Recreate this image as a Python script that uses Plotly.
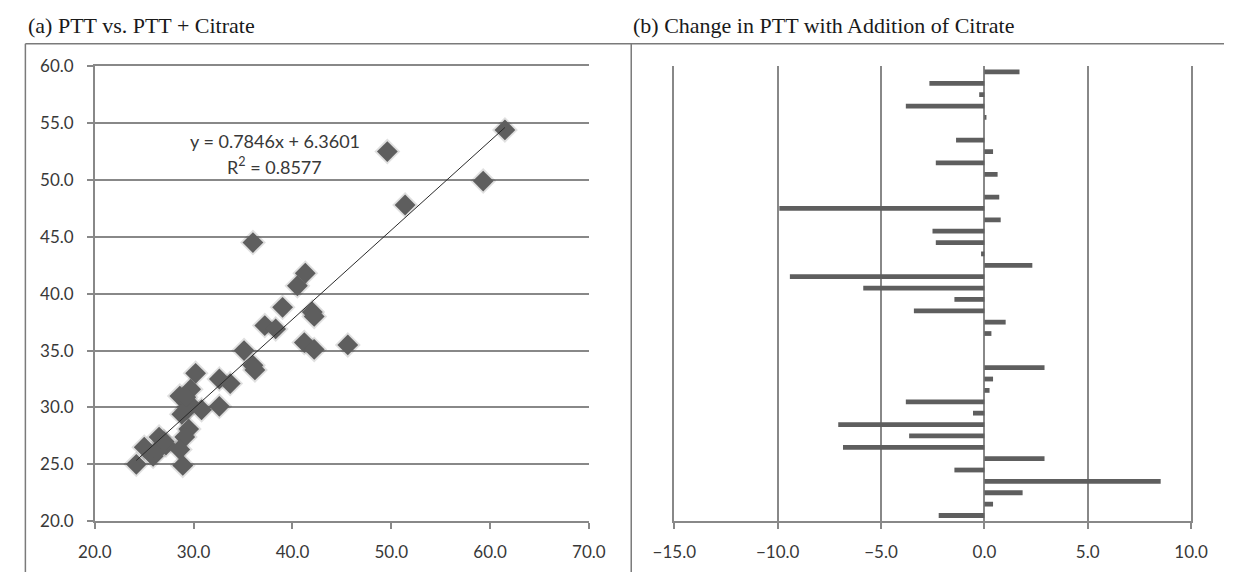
import plotly.graph_objects as go

# (a) PTT vs. PTT + Citrate
ptt = [61.5, 59.3, 49.6, 51.4, 36.0, 41.3, 40.5, 39.0, 42.0, 42.2,
       37.2, 38.3, 41.2, 42.2, 45.6, 35.1, 36.0, 36.2, 30.2, 32.6,
       33.7, 29.7, 28.6, 29.5, 30.8, 32.6, 28.8, 29.5, 29.1, 26.5,
       27.2, 25.0, 25.9, 28.6, 24.2, 28.9, 29.3, 26.3, 27.0, 29.2]
ptt_citrate = [54.4, 49.9, 52.5, 47.8, 44.5, 41.8, 40.7, 38.8, 38.4, 38.0,
               37.2, 36.9, 35.7, 35.1, 35.5, 35.0, 33.7, 33.3, 33.0, 32.5,
               32.1, 31.6, 31.0, 30.4, 29.8, 30.1, 29.4, 28.1, 27.4, 27.4,
               26.7, 26.5, 25.7, 26.3, 25.0, 24.9, 29.8, 26.2, 27.0, 30.9]

# trendline as printed on the chart
slope = 0.7846
intercept = 6.3601
r_squared = 0.8577

# (b) change in PTT, bars listed top to bottom
change = [1.70, -2.66, -0.25, -3.80, 0.10, 0.0, -1.37, 0.42, -2.35, 0.64,
          0.0, 0.72, -9.92, 0.79, -2.51, -2.35, -0.16, 2.32, -9.41, -5.86,
          -1.45, -3.41, 1.03, 0.34, 0.0, 0.0, 2.91, 0.42, 0.25, -3.80,
          -0.55, -7.07, -3.64, -6.84, 2.91, -1.45, 8.53, 1.85, 0.42, -2.21]
rows = list(range(len(change)))

# positions below are worked out on a 1241x582 canvas
W, H = 1241, 582
GRID = "#888888"
TXT = "#383838"
MARK = "#5e5e5e"


def px(x):
    return x / W


def py(y):
    return 1 - y / H


fig = go.Figure()

# soft halo under the diamonds, like the excel shadow
fig.add_trace(go.Scatter(
    x=ptt, y=ptt_citrate, mode="markers",
    marker=dict(symbol="diamond", size=20, color="rgba(0,0,0,0.12)", line=dict(width=0)),
    xaxis="x", yaxis="y", showlegend=False, hoverinfo="skip",
))
fig.add_trace(go.Scatter(
    x=ptt, y=ptt_citrate, mode="markers",
    marker=dict(symbol="diamond", size=16, color=MARK, line=dict(width=0)),
    xaxis="x", yaxis="y", showlegend=False,
))

x0, x1 = min(ptt), max(ptt)
fig.add_trace(go.Scatter(
    x=[x0, x1], y=[slope * x0 + intercept, slope * x1 + intercept],
    mode="lines", line=dict(color="#2a2a2a", width=1),
    xaxis="x", yaxis="y", showlegend=False,
))

fig.add_trace(go.Bar(
    x=change, y=rows, orientation="h", width=0.42,
    marker=dict(color=MARK, line=dict(width=0)),
    xaxis="x2", yaxis="y2", showlegend=False,
))

tickfont = dict(family="Lato", size=17, color=TXT)
ydom = [py(529.3), py(57.3)]
axis_common = dict(
    showline=True, linecolor=GRID, linewidth=1.5,
    ticks="outside", ticklen=6, tickcolor=GRID, tickwidth=1.5,
    tickfont=tickfont, tickformat=".1f", fixedrange=True,
)

fig.update_layout(
    autosize=True,
    margin=dict(l=0, r=0, t=0, b=0),
    paper_bgcolor="white", plot_bgcolor="white",
    xaxis=dict(
        domain=[px(75.2), px(585.3)], range=[20, 70], dtick=10,
        showgrid=False, zeroline=False, ticklabelstandoff=9,
        mirror=True,  # top line doubles as the 60.0 gridline
        anchor="y", **axis_common,
    ),
    yaxis=dict(
        domain=ydom, range=[20, 60], dtick=5,
        showgrid=True, gridcolor=GRID, gridwidth=1.5, zeroline=False,
        ticklabelstandoff=10, anchor="x", **axis_common,
    ),
    xaxis2=dict(
        domain=[px(673.5), px(1207)], range=[-15, 10], dtick=5,
        showgrid=True, gridcolor=GRID, gridwidth=1.5,
        zeroline=True, zerolinecolor=GRID, zerolinewidth=1.5,
        ticklabelstandoff=9, anchor="y2", **axis_common,
    ),
    yaxis2=dict(
        domain=ydom, range=[len(change) - 0.5, -0.5],
        showticklabels=False, showgrid=False, zeroline=False,
        # edge lines stand in for the -15.0 and 10.0 gridlines
        showline=True, mirror=True, linecolor=GRID, linewidth=1.5,
        ticks="", anchor="x2", fixedrange=True,
    ),
    bargap=0.58,
)

# trendline label
fig.add_annotation(x=38.2, y=53.4, xref="x", yref="y", showarrow=False,
                   text="y = %.4fx + %.4f" % (slope, intercept),
                   font=dict(family="Lato", size=18, color=TXT))
fig.add_annotation(x=38.2, y=51.2, xref="x", yref="y", showarrow=False,
                   text="R<sup>2</sup> = %.4f" % r_squared,
                   font=dict(family="Lato", size=18, color=TXT))

# panel captions
titlefont = dict(family="Liberation Serif", size=22, color="#1a1a1a")
fig.add_annotation(x=px(4), y=py(15), xref="paper", yref="paper",
                   xanchor="left", yanchor="middle", showarrow=False,
                   text="(a) PTT vs. PTT + Citrate", font=titlefont)
fig.add_annotation(x=px(629), y=py(15), xref="paper", yref="paper",
                   xanchor="left", yanchor="middle", showarrow=False,
                   text="(b) Change in PTT with Addition of Citrate", font=titlefont)

# frame lines around the panels
frame = dict(color="#7a7a7a", width=1.5)
fig.add_shape(type="line", xref="paper", yref="paper",
              x0=px(3.5), x1=1, y0=py(34), y1=py(34), line=frame)
fig.add_shape(type="line", xref="paper", yref="paper",
              x0=px(3.5), x1=px(3.5), y0=py(34), y1=0, line=frame)
fig.add_shape(type="line", xref="paper", yref="paper",
              x0=px(629), x1=px(629), y0=py(34), y1=0, line=frame)

fig.write_html(
    "out.html",
    config={"displayModeBar": False},
    default_width="100vw", default_height="100vh",
    post_script="document.body.style.margin='0';"
                "document.body.style.overflow='hidden';"
                "Plotly.Plots.resize(document.getElementById('{plot_id}'));",
)
